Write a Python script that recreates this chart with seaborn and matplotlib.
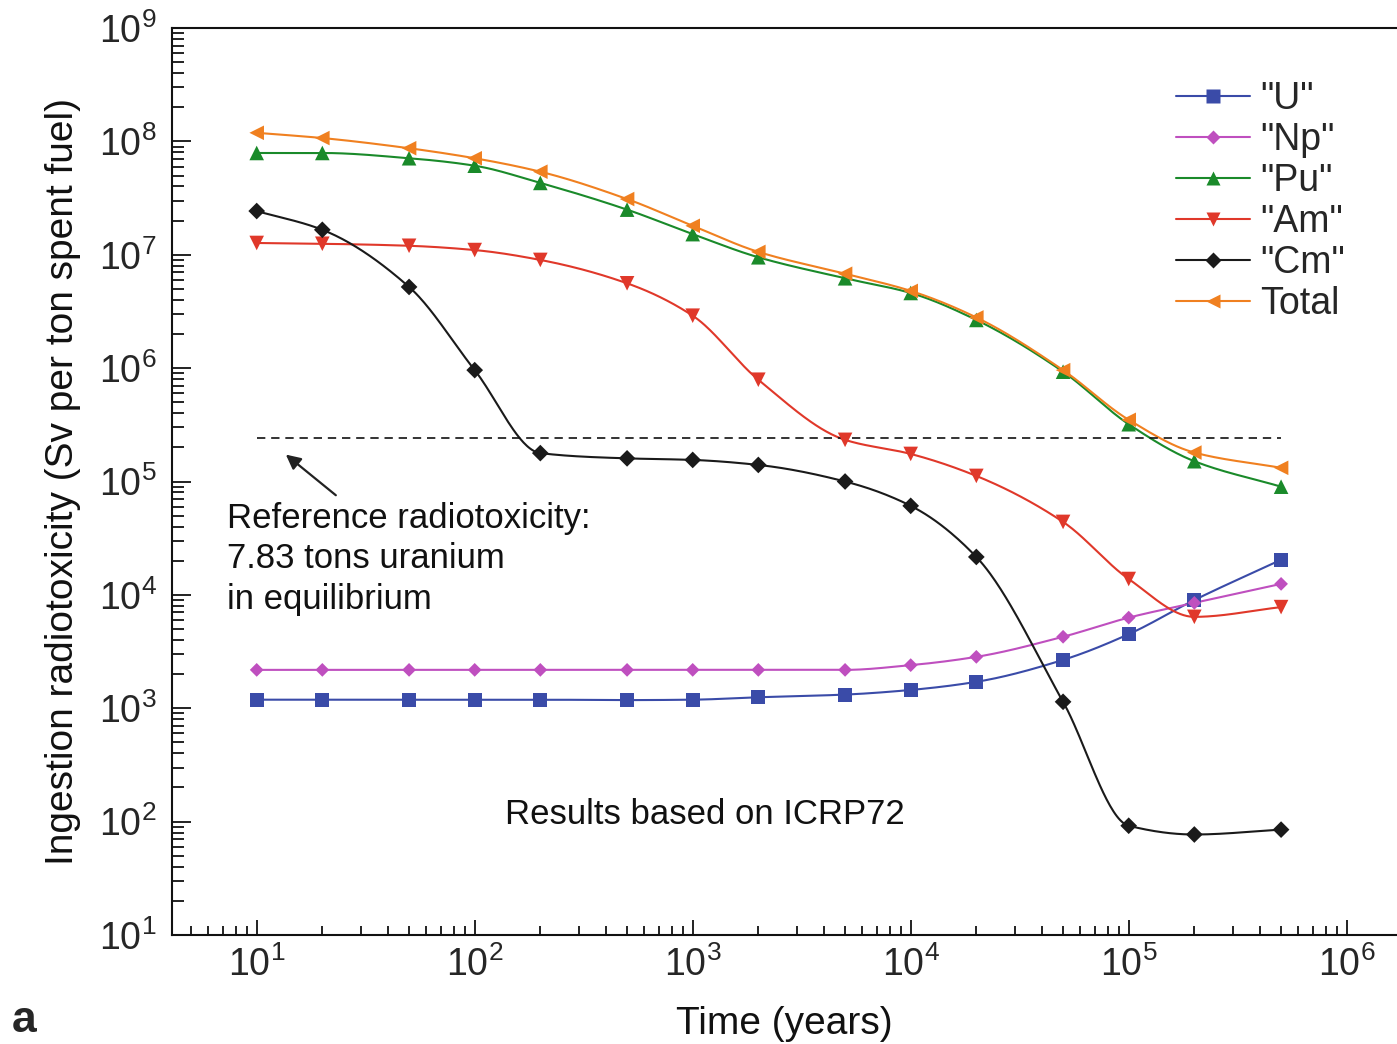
import numpy as np
import pandas as pd
import matplotlib
matplotlib.use("Agg")
import matplotlib.pyplot as plt
from matplotlib.lines import Line2D
from matplotlib.ticker import LogLocator, NullFormatter
import seaborn as sns

# ---------------- data ----------------
time_years = [10, 20, 50, 100, 200, 500, 1000, 2000, 5000, 1e4, 2e4, 5e4, 1e5, 2e5, 5e5]
u_vals  = [1.19e3, 1.19e3, 1.19e3, 1.19e3, 1.19e3, 1.18e3, 1.19e3, 1.25e3, 1.32e3, 1.45e3, 1.71e3, 2.67e3, 4.5e3, 9.0e3, 2.04e4]
np_vals = [2.18e3, 2.18e3, 2.18e3, 2.18e3, 2.18e3, 2.18e3, 2.18e3, 2.18e3, 2.18e3, 2.4e3, 2.84e3, 4.27e3, 6.3e3, 8.5e3, 1.25e4]
pu_vals = [7.9e7, 7.9e7, 7.1e7, 6.1e7, 4.3e7, 2.5e7, 1.52e7, 9.5e6, 6.2e6, 4.6e6, 2.66e6, 9.3e5, 3.2e5, 1.51e5, 9.0e4]
am_vals = [1.27e7, 1.25e7, 1.2e7, 1.1e7, 9.0e6, 5.6e6, 2.9e6, 7.9e5, 2.33e5, 1.75e5, 1.12e5, 4.4e4, 1.38e4, 6.4e3, 7.8e3]
cm_vals = [2.43e7, 1.66e7, 5.2e6, 9.6e5, 1.78e5, 1.6e5, 1.55e5, 1.4e5, 1.0e5, 6.1e4, 2.16e4, 1.14e3, 92, 77, 85]
total_vals = [1.19e8, 1.07e8, 8.7e7, 7.1e7, 5.4e7, 3.1e7, 1.8e7, 1.06e7, 6.8e6, 4.8e6, 2.8e6, 9.6e5, 3.5e5, 1.8e5, 1.32e5]

series_names = ['"U"', '"Np"', '"Pu"', '"Am"', '"Cm"', 'Total']
series_values = [u_vals, np_vals, pu_vals, am_vals, cm_vals, total_vals]
colors = ['#3a4ba8', '#bf4fbf', '#1a8a2a', '#e0382a', '#1a1a1a', '#f08020']
markers = ['s', 'D', '^', 'v', 'D', '<']
marker_sizes = [10, 7, 10.5, 10.5, 8.5, 10.5]

reference_level = 2.4e5
reference_span = [10, 5e5]

# ---------------- style ----------------
sns.set_theme(style="ticks")
plt.rcParams['font.family'] = ['Liberation Sans', 'DejaVu Sans']
plt.rcParams['mathtext.fontset'] = 'custom'
plt.rcParams['mathtext.rm'] = 'Liberation Sans'
plt.rcParams['mathtext.it'] = 'Liberation Sans:italic'
plt.rcParams['mathtext.bf'] = 'Liberation Sans:bold'

W, H = 1397, 1044
fig = plt.figure(figsize=(W / 100, H / 100), dpi=100)
ax = fig.add_axes([172 / W, 1 - 935 / H, 1 - 172 / W, (935 - 28) / H])


def pchip(x, y, xn):
    x = np.asarray(x, float); y = np.asarray(y, float)
    h = np.diff(x); d = np.diff(y) / h
    n = len(x); m = np.zeros(n)
    for k in range(1, n - 1):
        if d[k - 1] * d[k] <= 0:
            m[k] = 0.0
        else:
            w1 = 2 * h[k] + h[k - 1]; w2 = h[k] + 2 * h[k - 1]
            m[k] = (w1 + w2) / (w1 / d[k - 1] + w2 / d[k])
    m[0] = d[0]; m[-1] = d[-1]
    idx = np.clip(np.searchsorted(x, xn) - 1, 0, n - 2)
    t = (xn - x[idx]) / h[idx]
    h00 = 2 * t**3 - 3 * t**2 + 1; h10 = t**3 - 2 * t**2 + t
    h01 = -2 * t**3 + 3 * t**2; h11 = t**3 - t**2
    return h00 * y[idx] + h10 * h[idx] * m[idx] + h01 * y[idx + 1] + h11 * h[idx] * m[idx + 1]


lx = np.log10(time_years)
xs = np.linspace(lx[0], lx[-1], 600)
curve_rows = []
point_rows = []
for name, vals in zip(series_names, series_values):
    ys = pchip(lx, np.log10(vals), xs)
    curve_rows.append(pd.DataFrame({'t': 10 ** xs, 'v': 10 ** ys, 'series': name}))
    point_rows.append(pd.DataFrame({'t': time_years, 'v': vals, 'series': name}))
curves = pd.concat(curve_rows, ignore_index=True)
points = pd.concat(point_rows, ignore_index=True)

palette = dict(zip(series_names, colors))
sns.lineplot(data=curves, x='t', y='v', hue='series', palette=palette,
             estimator=None, sort=False, legend=False, lw=1.5, ax=ax)
for name, mk, ms in zip(series_names, markers, marker_sizes):
    sub = points[points['series'] == name]
    sns.scatterplot(data=sub, x='t', y='v', color=palette[name], marker=mk,
                    s=ms ** 2, edgecolor='none', legend=False, ax=ax, zorder=3)

ax.plot(reference_span, [reference_level] * 2, color='#111111', lw=1.2,
        linestyle=(0, (5, 3.5)))

ax.set_xscale('log')
ax.set_yscale('log')
ax.set_xlim(10 ** 0.6115, 10 ** 6.2307)
ax.set_ylim(1e1, 1e9)
ax.xaxis.set_major_locator(LogLocator(base=10, numticks=20))
ax.yaxis.set_major_locator(LogLocator(base=10, numticks=20))
ax.xaxis.set_minor_locator(LogLocator(base=10, subs=np.arange(2, 10), numticks=20))
ax.yaxis.set_minor_locator(LogLocator(base=10, subs=np.arange(2, 10), numticks=20))
ax.xaxis.set_minor_formatter(NullFormatter())
ax.yaxis.set_minor_formatter(NullFormatter())

ax.tick_params(axis='both', which='both', direction='in', color='#111111', width=1.3)
ax.tick_params(axis='y', which='major', length=14, labelsize=27, pad=11)
ax.tick_params(axis='y', which='minor', length=8.5)
ax.tick_params(axis='x', which='major', length=11, labelsize=27, pad=8)
ax.tick_params(axis='x', which='minor', length=6.5)
for s in ['left', 'bottom', 'top']:
    ax.spines[s].set_visible(True)
    ax.spines[s].set_linewidth(1.5)
    ax.spines[s].set_color('#111111')
ax.spines['right'].set_visible(False)

ax.set_xlabel('Time (years)', fontsize=28, labelpad=16, color='#111111')
ax.set_ylabel('Ingestion radiotoxicity (Sv per ton spent fuel)', fontsize=28,
              labelpad=13, color='#111111')

ax.text(7.3, 10 ** 4.317, 'Reference radiotoxicity:\n7.83 tons uranium\nin equilibrium',
        fontsize=25, va='center', ha='left', linespacing=1.28, color='#111111')
ax.annotate('', xy=(13.3, 1.79e5), xytext=(23.6, 7.3e4),
            arrowprops=dict(arrowstyle='-|>', lw=1.6, color='#222222', mutation_scale=22))
ax.text(1138, 115, 'Results based on ICRP72', fontsize=25, ha='center', va='center',
        color='#111111')

handles = [Line2D([0], [0], color=c, marker=m, markersize=ms, markeredgecolor='none', lw=1.5)
           for c, m, ms in zip(colors, markers, marker_sizes)]
leg = ax.legend(handles, series_names, loc='upper left', bbox_to_anchor=(0.8196, 0.9415),
                frameon=False, fontsize=27, handlelength=1.97, handletextpad=0.27,
                labelspacing=0.135, borderpad=0, borderaxespad=0)

fig.text(12 / W, 1 - 1021 / H, 'a', fontsize=32, fontweight='bold', va='center', ha='left')

fig.savefig('out.png', dpi=100)
